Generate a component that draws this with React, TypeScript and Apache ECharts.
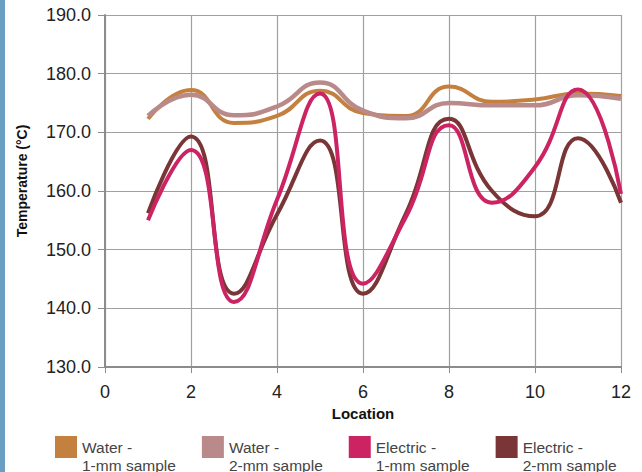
import React, { useEffect, useRef } from "react";
import * as echarts from "echarts";

const locations = [1, 2, 3, 4, 5, 6, 7, 8, 9, 10, 11, 12];
const water1mm = [172.3, 177.2, 171.6, 172.8, 177.1, 173.3, 172.8, 177.8, 175.2, 175.6, 176.6, 176.2];
const water2mm = [172.8, 176.4, 172.9, 174.4, 178.5, 173.7, 172.4, 175.0, 174.6, 174.6, 176.3, 175.7];
const electric1mm = [155.0, 167.0, 141.1, 158.5, 176.6, 144.2, 155.6, 171.2, 158.0, 164.1, 177.3, 159.5];
const electric2mm = [156.2, 169.3, 142.5, 156.0, 168.6, 142.5, 156.2, 172.3, 160.0, 155.7, 169.0, 158.0];

const seriesNames = [
  "Water -\n1-mm sample",
  "Water -\n2-mm sample",
  "Electric -\n1-mm sample",
  "Electric -\n2-mm sample",
];
const seriesColors = ["#c4803f", "#b98a89", "#cc2362", "#7a3636"];
const yTicks = [130, 140, 150, 160, 170, 180, 190];
const xTicks = [0, 2, 4, 6, 8, 10, 12];

const pairs = (vals: number[]) => locations.map((x, i) => [x, vals[i]]);

export default function App() {
  const ref = useRef<HTMLDivElement>(null);
  useEffect(() => {
    if (!ref.current) return;
    const chart = echarts.init(ref.current, undefined, { renderer: "svg" });
    const font = "'Liberation Sans', Arial, Helvetica, sans-serif";
    const gridColor = "#a0a0a0";
    const axisColor = "#8c8c8c";
    const mk = (idx: number, vals: number[], width: number) => ({
      name: seriesNames[idx],
      type: "line",
      data: pairs(vals),
      smooth: 0.5,
      symbol: "none",
      lineStyle: { color: seriesColors[idx], width },
      itemStyle: { color: seriesColors[idx] },
    });
    chart.setOption({
      animation: false,
      backgroundColor: "#ffffff",
      textStyle: { fontFamily: font },
      graphic: [
        {
          type: "rect",
          shape: { x: 0, y: 0, width: 5, height: 472 },
          style: { fill: "#6b9ec3" },
          silent: true,
        },
      ],
      grid: { left: 105, right: 21, top: 15, bottom: 105 },
      legend: {
        data: seriesNames,
        left: 50,
        top: 415,
        icon: "rect",
        itemWidth: 22,
        itemHeight: 22,
        itemGap: 26,
        itemTextGap: 8,
        formatter: (name: string) => "\n" + name,
        textStyle: {
          color: "#444444",
          fontSize: 15.5,
          lineHeight: 18,
          fontFamily: font,
        },
      },
      xAxis: {
        type: "value",
        min: 0,
        max: 12,
        interval: 2,
        name: "Location",
        nameLocation: "middle",
        nameGap: 39,
        nameTextStyle: { fontSize: 15, fontWeight: "bold", color: "#111111", fontFamily: font },
        axisLine: { show: true, lineStyle: { color: axisColor, width: 2 } },
        axisTick: { show: true, length: 6, lineStyle: { color: axisColor, width: 1 } },
        axisLabel: {
          margin: 16,
          fontSize: 18,
          color: "#222222",
          formatter: (v: number) => (xTicks.includes(v) ? String(v) : ""),
        },
        splitLine: { show: true, lineStyle: { color: gridColor, width: 1.2 } },
      },
      yAxis: {
        type: "value",
        min: 130,
        max: 190,
        interval: 10,
        name: "Temperature (°C)",
        nameLocation: "middle",
        nameGap: 76,
        nameTextStyle: {
          fontSize: 14,
          fontWeight: "bold",
          color: "#111111",
          fontFamily: font,
          padding: [0, 0, 0, 20],
        },
        axisLine: { show: true, lineStyle: { color: axisColor, width: 2 } },
        axisTick: { show: true, length: 7, lineStyle: { color: axisColor, width: 1 } },
        axisLabel: {
          margin: 14,
          fontSize: 18,
          color: "#222222",
          formatter: (v: number) => (yTicks.includes(v) ? v.toFixed(1) : ""),
        },
        splitLine: { show: true, lineStyle: { color: gridColor, width: 1.2 } },
      },
      series: [
        mk(0, water1mm, 4),
        mk(1, water2mm, 4.5),
        mk(3, electric2mm, 4),
        mk(2, electric1mm, 4),
      ],
    });
    return () => chart.dispose();
  }, []);
  return (
    <div
      ref={ref}
      style={{ position: "fixed", left: 0, top: 0, width: 642, height: 472 }}
    />
  );
}
